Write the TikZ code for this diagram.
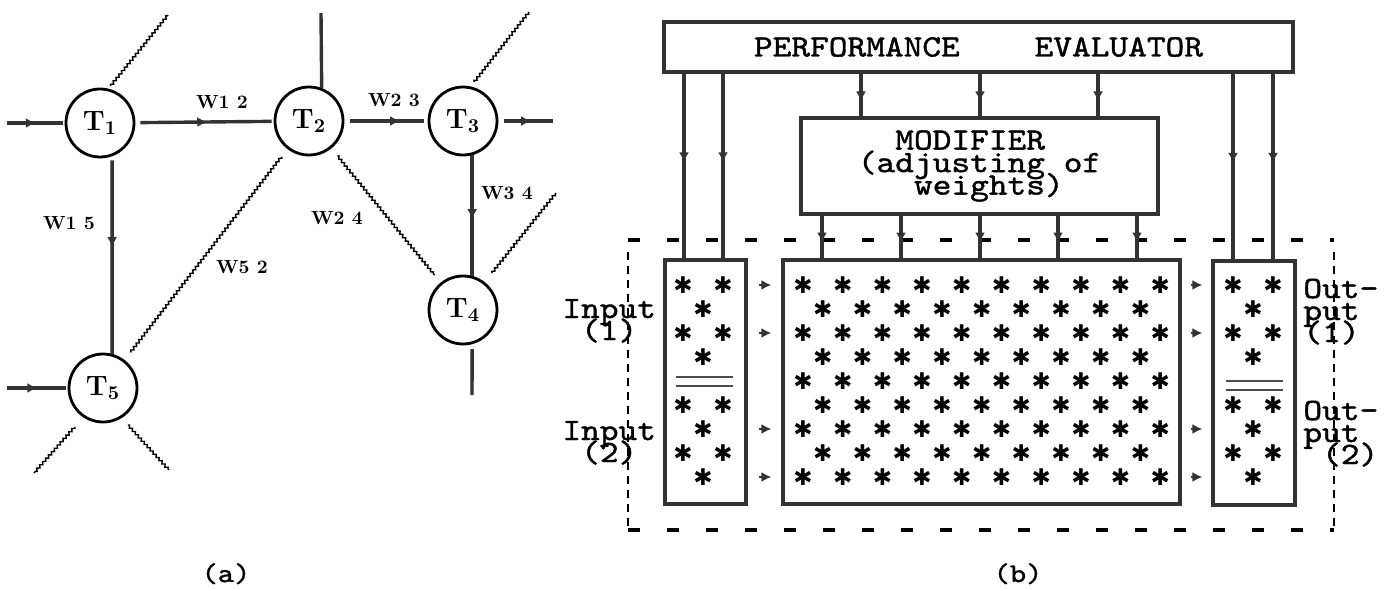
\documentclass[tikz,border=0pt]{standalone}
\usepackage{fontspec}
\newfontfamily\typew{lmmono10-regular.otf}[FakeStretch=1.15, FakeBold=1.3]
\newfontfamily\symf{DejaVu Sans}
\usetikzlibrary{decorations.pathmorphing,decorations.markings,arrows.meta,calc}
\tikzset{
  tnode/.style={circle, draw, line width=1.4pt, minimum size=34pt, inner sep=0pt,
    font=\fontsize{14}{15}\selectfont\bfseries},
  heavy/.style={draw=black!80, line width=1.7pt},
  wavy/.style={draw=black, line width=0.7pt, decorate,
    decoration={zigzag, amplitude=0.6pt, segment length=2.2pt}},
  wlabel/.style={font=\fontsize{9.5}{10}\selectfont\bfseries, inner sep=0pt},
  midarrow/.style={postaction={decorate, decoration={markings,
    mark=at position #1 with {\arrow{Latex[length=5pt,width=5pt]}}}}},
  boxed/.style={draw=black!80, line width=1.6pt, inner sep=0pt},
  tw/.style={font=\typew\fontsize{15.5}{11.25}\selectfont, inner sep=0pt},
  twl/.style={font=\typew\fontsize{15.5}{12}\selectfont, inner sep=0pt, anchor=base west},
  captext/.style={font=\typew\fontsize{13.5}{14}\selectfont, inner sep=0pt, anchor=base},
  star/.style={font=\symf\fontsize{11.5}{11.5}\selectfont, inner sep=0pt},
  stub/.style={draw=black!80, line width=1.2pt, -{Latex[length=5pt,width=5pt]}},
  dbl/.style={draw=black!70, line width=0.9pt},
  dashhz/.style={draw=black, line width=1.6pt, dash pattern=on 6pt off 13.5pt},
  dashvt/.style={draw=black, line width=1pt, dash pattern=on 4pt off 3pt},
}
\newcommand\tightlines{\lineskiplimit=-20pt\relax\lineskip=0pt\relax}
\newcommand\mystar{✱}
\begin{document}
\begin{tikzpicture}[x=0.5pt, y=-0.5pt]
\useasboundingbox (0,0) rectangle (1387,590);

% ---------------- panel (a) ----------------
\node[tnode] (t1) at (100,123) {T\textsubscript{1}};
\node[tnode] (t2) at (309,121) {T\textsubscript{2}};
\node[tnode] (t3) at (463,121) {T\textsubscript{3}};
\node[tnode] (t4) at (463,310) {T\textsubscript{4}};
\node[tnode] (t5) at (103,388) {T\textsubscript{5}};

\coordinate (in1) at (7,123);
\coordinate (in5) at (7,388);
\coordinate (out3) at (553,121);
\coordinate (up2) at (321,13);
\coordinate (dn4) at (472,395);
\coordinate (w1) at (168,15);
\coordinate (w3) at (529,12);
\coordinate (w4) at (556,193);
\coordinate (w5a) at (34,473);
\coordinate (w5b) at (169,470);

\draw[heavy, midarrow=0.5, shorten >=1pt] (in1) -- (t1);
\draw[heavy, midarrow=0.52, shorten <=2.5pt, shorten >=1pt] (t1) -- (t2);
\draw[heavy, midarrow=0.67, shorten <=3pt, shorten >=2pt] (t2) -- (t3);
\draw[heavy, midarrow=0.6, shorten <=3pt] (t3) -- (out3);
\draw[heavy] (t2.69) -- (up2);
\draw[heavy, midarrow=0.46, shorten <=2pt] (t1.-70) -- (t5.75);
\draw[heavy, midarrow=0.53] (t3.-75) -- (t4.75);
\draw[heavy, shorten <=2.5pt] (t4.-75) -- (dn4);
\draw[heavy, midarrow=0.5, shorten >=1pt] (in5) -- (t5);

\draw[wavy] ($(t2)!22.5pt!(t5)$) -- ($(t5)!22.5pt!(t2)$);
\draw[wavy] ($(t2)!22.5pt!(t4)$) -- ($(t4)!22.5pt!(t2)$);
\draw[wavy] ($(t1)+(74:19.3pt)$) -- (w1);
\draw[wavy] ($(t3)+(74:20.3pt)$) -- (w3);
\draw[wavy] ($(t4)+(52:23.5pt)$) -- (w4);
\draw[wavy] ($(t5)+(234:24pt)$) -- (w5a);
\draw[wavy] ($(t5)+(-56:22.3pt)$) -- (w5b);

\node[wlabel] (lw12) at (222,102) {W1 2};
\node[wlabel] (lw23) at (394,100) {W2 3};
\node[wlabel] (lw15) at (69,223) {W1 5};
\node[wlabel] (lw52) at (242,267) {W5 2};
\node[wlabel] (lw24) at (337,218) {W2 4};
\node[wlabel] (lw34) at (507,193) {W3 4};

\node[captext] (capa) at (226,582) {(a)};

% ---------------- panel (b) ----------------
\node[boxed, tw, minimum width=314.5pt, minimum height=25pt] (perf) at (978.5,47)
  {PERFORMANCE\hspace{37.4pt}EVALUATOR};
\node[boxed, tw, align=left, minimum width=178.5pt, minimum height=48pt,
  execute at begin node=\tightlines] (mod) at (979.5,166)
  {\phantom{xx}MODIFIER\\(adjusting of\\\phantom{xxx}weights)};
\node[boxed, minimum width=40.5pt, minimum height=122pt] (inbox) at (705.5,382) {};
\node[boxed, minimum width=198.5pt, minimum height=122pt] (midbox) at (981.5,382) {};
\node[boxed, minimum width=41pt, minimum height=122pt] (outbox) at (1254,383) {};

% dashed frame
\coordinate (dnw) at (628,240);
\coordinate (dse) at (1334,530);
\draw[dashhz] (dnw) -- (dnw -| dse);
\draw[dashhz] (dnw |- dse) -- (dse);
\draw[dashvt] ([yshift=-6pt]dnw) -- (dnw |- dse);
\draw[dashvt] ([yshift=-6pt]dnw -| dse) -- (dse);

% vertical connectors
\coordinate (v1) at (684,0);
\coordinate (v2) at (723,0);
\coordinate (v3) at (1233,0);
\coordinate (v4) at (1273,0);
\draw[heavy, midarrow=0.48] (perf.south -| v1) -- (inbox.north -| v1);
\draw[heavy, midarrow=0.48] (perf.south -| v2) -- (inbox.north -| v2);
\draw[heavy, midarrow=0.48] (perf.south -| v3) -- (outbox.north -| v3);
\draw[heavy, midarrow=0.48] (perf.south -| v4) -- (outbox.north -| v4);

\coordinate (p1) at (861,0);
\coordinate (p2) at (980,0);
\coordinate (p3) at (1098,0);
\foreach \p in {p1,p2,p3}{
  \draw[heavy, midarrow=0.65] (perf.south -| \p) -- (mod.north -| \p);
}
\coordinate (m1) at (822,0);
\coordinate (m2) at (901,0);
\coordinate (m3) at (980,0);
\coordinate (m4) at (1058,0);
\coordinate (m5) at (1137,0);
\foreach \m in {m1,m2,m3,m4,m5}{
  \draw[heavy, midarrow=0.63] (mod.south -| \m) -- (midbox.north -| \m);
}

% short arrows between the boxes
\coordinate (h1) at (0,285);
\coordinate (h2) at (0,333);
\coordinate (h3) at (0,429);
\coordinate (h4) at (0,477);
\foreach \h in {h1,h2,h3,h4}{
  \draw[stub, shorten <=5.5pt, shorten >=5pt] (inbox.east |- \h) -- (midbox.west |- \h);
  \draw[stub, shorten <=4.5pt, shorten >=4.5pt] (midbox.east |- \h) -- (outbox.west |- \h);
}

% stars, middle box
\foreach \r in {0,2,4,6,8}{
  \foreach \c in {0,...,9}{
    \node[star] (ma\r-\c) at ({803+39.7*\c},{285+24*\r}) {\mystar};
  }
}
\foreach \r in {1,3,5,7}{
  \foreach \c in {0,...,8}{
    \node[star] (mb\r-\c) at ({822.85+39.7*\c},{285+24*\r}) {\mystar};
  }
}
% stars, input and output boxes
\foreach \r in {0,2,5,7}{
  \node[star] (ia\r) at (683,{285+24*\r}) {\mystar};
  \node[star] (ib\r) at (723,{285+24*\r}) {\mystar};
  \node[star] (oa\r) at (1233,{285+24*\r}) {\mystar};
  \node[star] (ob\r) at (1273,{285+24*\r}) {\mystar};
}
\foreach \r in {1,3,6,8}{
  \node[star] (ic\r) at (703,{285+24*\r}) {\mystar};
  \node[star] (oc\r) at (1253,{285+24*\r}) {\mystar};
}
\draw[dbl] (676,377) -- (733,377);
\draw[dbl] (676,386) -- (733,386);
\draw[dbl] (1226,381) -- (1283,381);
\draw[dbl] (1226,390) -- (1283,390);

% side labels
\node[twl] (inp1a) at (562,318) {Input};
\node[twl] (inp1b) at (562,340) {\phantom{x}(1)};
\node[twl] (inp2a) at (562,440) {Input};
\node[twl] (inp2b) at (562,462) {\phantom{x}(2)};
\node[twl] (out1a) at (1303,298) {Out-};
\node[twl] (out1b) at (1303,320) {put};
\node[twl] (out1c) at (1303,342) {(1)};
\node[twl] (out2a) at (1303,420) {Out-};
\node[twl] (out2b) at (1303,442) {put};
\node[twl] (out2c) at (1303,464) {\phantom{x}(2)};

\node[captext] (capb) at (1018,582) {(b)};
\end{tikzpicture}
\end{document}
